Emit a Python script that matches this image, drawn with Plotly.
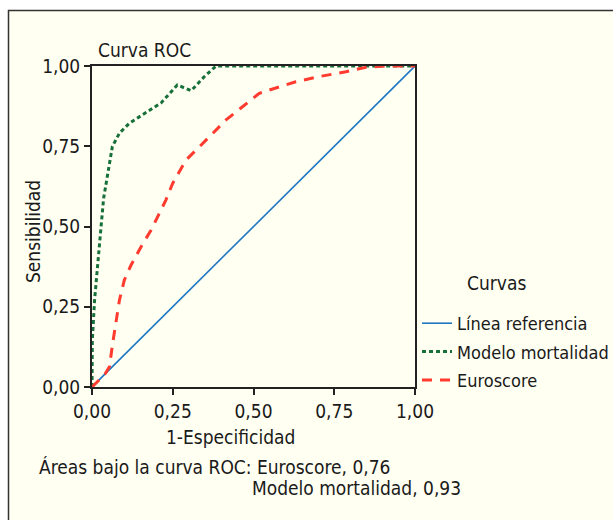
import plotly.graph_objects as go

# ---- data ----
ref_x = [0.0, 1.0]
ref_y = [0.0, 1.0]

modelo_x = [0.0, 0.001, 0.008, 0.018, 0.028, 0.036, 0.063, 0.085, 0.116, 0.172, 0.214, 0.264, 0.307, 0.348, 0.384, 1.0]
modelo_y = [0.0, 0.146, 0.271, 0.375, 0.499, 0.588, 0.749, 0.791, 0.822, 0.858, 0.885, 0.941, 0.923, 0.967, 1.0, 1.0]

euro_x = [0.0, 0.040, 0.054, 0.064, 0.085, 0.100, 0.121, 0.152, 0.183, 0.229, 0.250, 0.291, 0.353, 0.415, 0.466, 0.518, 0.580, 0.631, 0.703, 0.786, 0.848, 0.909, 1.0]
euro_y = [0.0, 0.040, 0.063, 0.136, 0.271, 0.333, 0.380, 0.437, 0.489, 0.583, 0.635, 0.707, 0.769, 0.832, 0.873, 0.915, 0.935, 0.951, 0.967, 0.982, 0.996, 1.0, 1.0]

tick_vals = [0, 0.25, 0.5, 0.75, 1.0]
tick_text = ["0,00", "0,25", "0,50", "0,75", "1,00"]

FONT = "DejaVu Sans Condensed, Liberation Sans Narrow, sans-serif"
FS = 19
TXT = "#1a1a1a"
CREAM = "#fffff2"

W, H = 613, 520
L, R, T, B = 92, 415, 66, 387  # plot area pixel box


def px(x):
    return (x - L) / (R - L)


def py(y):
    return (B - y) / (B - T)


fig = go.Figure()
fig.add_trace(go.Scatter(x=ref_x, y=ref_y, mode="lines", name="Línea referencia",
                         legendgroup="a", line=dict(color="#1f77c4", width=1.6)))
fig.add_trace(go.Scatter(x=modelo_x, y=modelo_y, mode="lines", name="Modelo mortalidad",
                         legendgroup="b", line=dict(color="#17703a", width=3, dash="4px,3px")))
fig.add_trace(go.Scatter(x=euro_x, y=euro_y, mode="lines", name="Euroscore",
                         legendgroup="c", line=dict(color="#ff3b2f", width=3, dash="10px,8px")))

axis_common = dict(
    range=[0, 1], tickvals=tick_vals, ticktext=tick_text, ticks="outside", ticklen=6,
    tickwidth=2, tickcolor="#222", showline=True, linecolor="#222", linewidth=2,
    mirror=True, showgrid=False, zeroline=False, automargin=False,
    tickfont=dict(family=FONT, size=FS, color=TXT), fixedrange=True,
)

fig.update_layout(
    width=W, height=H, autosize=False,
    margin=dict(l=L, r=W - R, t=T, b=H - B, pad=0),
    paper_bgcolor="white", plot_bgcolor="rgba(0,0,0,0)",
    xaxis=axis_common, yaxis=axis_common,
    font=dict(family=FONT, size=FS, color=TXT),
    showlegend=True,
    legend=dict(xref="container", yref="container", x=417 / W, y=1 - 305 / H,
                xanchor="left", yanchor="top", borderwidth=0,
                bgcolor="rgba(0,0,0,0)", font=dict(family=FONT, size=18, color=TXT),
                itemwidth=30, tracegroupgap=2),
    shapes=[dict(type="rect", xref="paper", yref="paper",
                 x0=px(8.5), x1=px(640), y0=py(560), y1=py(10.5),
                 line=dict(color="#333", width=1.5), fillcolor=CREAM, layer="below")],
    annotations=[
        dict(text="Curva ROC", x=px(96), y=py(50), xref="paper", yref="paper",
             xanchor="left", yanchor="middle", showarrow=False),
        dict(text="Sensibilidad", x=px(33), y=py(232), xref="paper", yref="paper",
             xanchor="center", yanchor="middle", textangle=-90, showarrow=False),
        dict(text="1-Especificidad", x=px(230), y=py(437), xref="paper", yref="paper",
             xanchor="center", yanchor="middle", showarrow=False),
        dict(text="Curvas", x=px(465), y=py(283), xref="paper", yref="paper",
             xanchor="left", yanchor="middle", showarrow=False),
        dict(text="Áreas bajo la curva ROC: Euroscore, 0,76", x=px(37), y=py(467), xref="paper", yref="paper",
             xanchor="left", yanchor="middle", showarrow=False),
        dict(text="Modelo mortalidad, 0,93", x=px(250), y=py(488), xref="paper", yref="paper",
             xanchor="left", yanchor="middle", showarrow=False),
    ],
)

fig.write_html("out.html", config={"displayModeBar": False},
               post_script="document.body.style.margin='0';document.body.style.overflow='hidden';")
